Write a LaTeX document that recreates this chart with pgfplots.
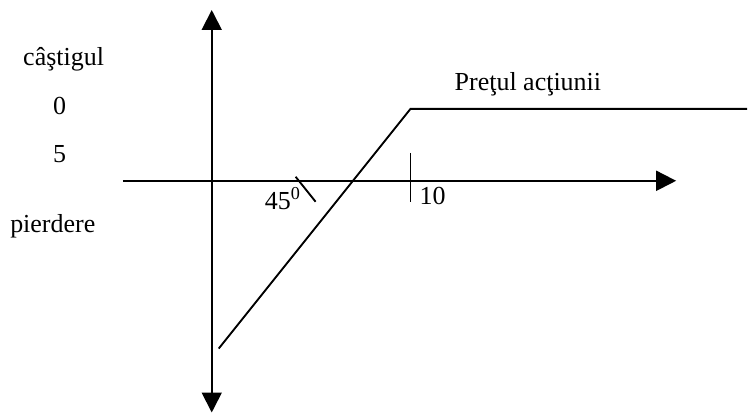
\documentclass[border=0pt]{standalone}
\usepackage{fontspec}
\setmainfont{Liberation Serif}
\usepackage{pgfplots}
\pgfplotsset{compat=1.18}
\usetikzlibrary{arrows.meta}
\begin{document}
\begin{tikzpicture}
\begin{axis}[
  scale only axis, width=561pt, height=311.25pt,
  xmin=0, xmax=748, ymin=0, ymax=415, y dir=reverse,
  hide axis, clip=false,
]
\draw[draw=none] (rel axis cs:0,0) rectangle (rel axis cs:1,1);
% axes
\addplot[black, line width=1.4pt, {Triangle[width=15pt,length=15pt]}-{Triangle[width=15pt,length=15pt]}] coordinates {(212,10) (212,413)};
\addplot[black, line width=1.4pt, -{Triangle[width=15pt,length=15pt]}] coordinates {(123,181) (677,181)};
% payoff line
\addplot[black, line width=1.4pt] coordinates {(219,349) (411,109) (748,109)};
% tick at 10
\addplot[black, line width=1.4pt] coordinates {(411,153) (411,202)};
% 45 degree mark
\addplot[black, line width=1.4pt] coordinates {(296,177) (316,202)};
% labels
\node[anchor=base west, inner sep=0pt, font=\fontsize{19.5}{23}\selectfont] at (axis cs:23,66) {câştigul};
\node[anchor=base west, inner sep=0pt, font=\fontsize{19.5}{23}\selectfont] at (axis cs:53,115) {0};
\node[anchor=base west, inner sep=0pt, font=\fontsize{19.5}{23}\selectfont] at (axis cs:53,163) {5};
\node[anchor=base west, inner sep=0pt, font=\fontsize{19.5}{23}\selectfont] at (axis cs:10,233) {pierdere};
\node[anchor=base west, inner sep=0pt, font=\fontsize{19.5}{23}\selectfont] at (axis cs:455,91) {Preţul acţiunii};
\node[anchor=base west, inner sep=0pt, font=\fontsize{19.5}{23}\selectfont] at (axis cs:420,205) {10};
\node[anchor=base west, inner sep=0pt, font=\fontsize{19.5}{23}\selectfont] at (axis cs:265,210) {45\textsuperscript{0}};
\end{axis}
\end{tikzpicture}
\end{document}
